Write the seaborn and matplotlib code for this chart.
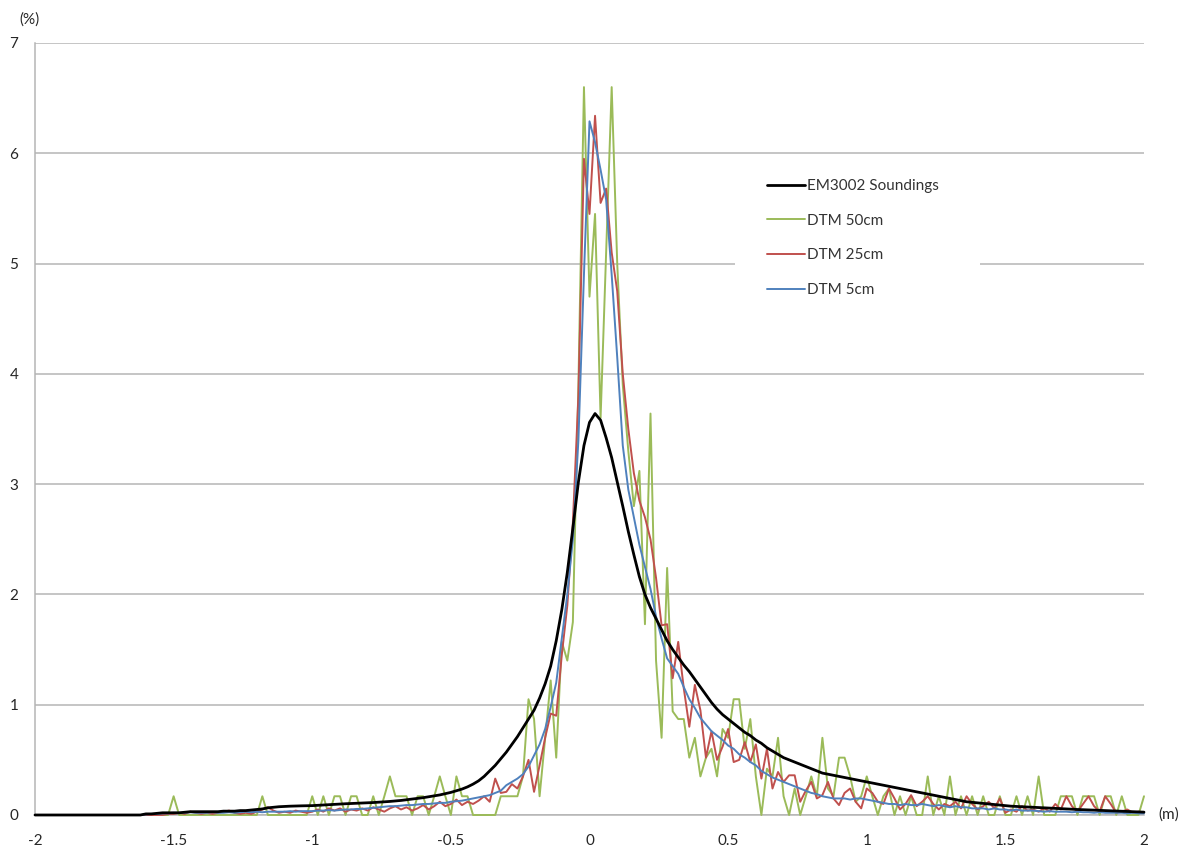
import numpy as np
import pandas as pd
import matplotlib
matplotlib.use("Agg")
import matplotlib.pyplot as plt
import seaborn as sns
from matplotlib.patches import Rectangle
from matplotlib.lines import Line2D

# bin centres (m), step 0.02 from -2 to 2
x_m = np.round(np.linspace(-2, 2, 201), 2)

em3002 = [
    0, 0, 0, 0, 0, 0, 0, 0, 0, 0,
    0, 0, 0, 0, 0, 0, 0, 0, 0, 0,
    0.01, 0.01, 0.015, 0.02, 0.02, 0.02, 0.02, 0.025, 0.03, 0.03,
    0.03, 0.03, 0.03, 0.03, 0.035, 0.035, 0.035, 0.04, 0.04, 0.045,
    0.05, 0.055, 0.065, 0.07, 0.075, 0.078, 0.08, 0.082, 0.083, 0.084,
    0.085, 0.088, 0.09, 0.093, 0.096, 0.10, 0.102, 0.104, 0.106, 0.108,
    0.11, 0.113, 0.116, 0.12, 0.123, 0.127, 0.132, 0.138, 0.144, 0.15,
    0.157, 0.165, 0.173, 0.182, 0.193, 0.205, 0.22, 0.235, 0.255, 0.28,
    0.31, 0.35, 0.40, 0.45, 0.51, 0.57, 0.64, 0.71, 0.79, 0.87,
    0.95, 1.06, 1.19, 1.35, 1.58, 1.86, 2.2, 2.6, 3.02, 3.35,
    3.56, 3.64, 3.58, 3.42, 3.24, 3.02, 2.8, 2.57, 2.36, 2.16,
    2.0, 1.88, 1.78, 1.68, 1.58, 1.5, 1.43, 1.36, 1.3, 1.23,
    1.16, 1.09, 1.02, 0.96, 0.91, 0.87, 0.83, 0.79, 0.75, 0.72,
    0.68, 0.65, 0.61, 0.58, 0.55, 0.52, 0.5, 0.48, 0.46, 0.44,
    0.42, 0.4, 0.38, 0.37, 0.36, 0.35, 0.34, 0.33, 0.32, 0.31,
    0.30, 0.29, 0.28, 0.27, 0.26, 0.25, 0.24, 0.23, 0.22, 0.21,
    0.2, 0.19, 0.18, 0.17, 0.16, 0.15, 0.14, 0.13, 0.12, 0.115,
    0.11, 0.105, 0.1, 0.095, 0.09, 0.085, 0.08, 0.078, 0.075, 0.072,
    0.07, 0.068, 0.065, 0.062, 0.06, 0.058, 0.055, 0.052, 0.05, 0.048,
    0.046, 0.044, 0.042, 0.04, 0.038, 0.036, 0.034, 0.032, 0.03, 0.028,
    0.026]

dtm50 = [
    0, 0, 0, 0, 0, 0, 0, 0, 0, 0,
    0, 0, 0, 0, 0, 0, 0, 0, 0, 0,
    0, 0, 0, 0, 0, 0.17, 0, 0, 0, 0,
    0, 0, 0, 0, 0, 0, 0, 0, 0, 0,
    0, 0.17, 0, 0, 0, 0, 0, 0, 0, 0,
    0.17, 0, 0.17, 0, 0.17, 0.17, 0, 0.17, 0.17, 0,
    0, 0.17, 0, 0.17, 0.35, 0.17, 0.17, 0.17, 0, 0.17,
    0.17, 0, 0.17, 0.35, 0.17, 0, 0.35, 0.17, 0.17, 0,
    0, 0, 0, 0, 0.17, 0.17, 0.17, 0.17, 0.35, 1.05,
    0.87, 0.17, 0.7, 1.22, 0.52, 1.57, 1.4, 1.75, 3.9, 6.6,
    4.7, 5.45, 3.6, 5.1, 6.6, 5.0, 3.9, 3.3, 2.8, 3.12,
    1.73, 3.64, 1.4, 0.7, 2.24, 0.94, 0.87, 0.87, 0.52, 0.7,
    0.35, 0.52, 0.6, 0.35, 0.78, 0.7, 1.05, 1.05, 0.6, 0.87,
    0.35, 0, 0.42, 0.35, 0.7, 0.17, 0, 0.24, 0, 0.17,
    0.35, 0.17, 0.7, 0.24, 0.17, 0.52, 0.52, 0.35, 0.12, 0.17,
    0.35, 0.17, 0, 0.17, 0.24, 0, 0.17, 0, 0.17, 0,
    0, 0.35, 0, 0.17, 0, 0.35, 0, 0.17, 0, 0.17,
    0, 0.17, 0, 0, 0.17, 0, 0, 0.17, 0, 0.17,
    0, 0.35, 0, 0, 0, 0.17, 0.17, 0.17, 0, 0.17,
    0.17, 0.17, 0, 0.17, 0.17, 0, 0.17, 0, 0, 0,
    0.17]

dtm25 = [
    0, 0, 0, 0, 0, 0, 0, 0, 0, 0,
    0, 0, 0, 0, 0, 0, 0, 0, 0, 0,
    0, 0, 0, 0, 0.01, 0.01, 0.02, 0.01, 0.03, 0.02,
    0.01, 0.02, 0.01, 0.02, 0.03, 0.04, 0.02, 0.01, 0.02, 0.01,
    0.03, 0.05, 0.07, 0.04, 0.02, 0.03, 0.02, 0.04, 0.03, 0.02,
    0.03, 0.05, 0.03, 0.06, 0.04, 0.06, 0.03, 0.05, 0.04, 0.06,
    0.04, 0.07, 0.05, 0.03, 0.06, 0.08, 0.05, 0.07, 0.04, 0.06,
    0.09, 0.05, 0.08, 0.12, 0.08, 0.1, 0.14, 0.09, 0.12, 0.1,
    0.13, 0.17, 0.12, 0.33, 0.2, 0.21, 0.28, 0.24, 0.35, 0.5,
    0.21, 0.45, 0.7, 0.92, 0.9, 1.45, 1.9, 2.65, 3.8, 5.95,
    5.45, 6.34, 5.55, 5.68, 5.1, 4.75, 4.0, 3.5, 3.1, 2.85,
    2.7, 2.5, 2.15, 1.72, 1.73, 1.24, 1.57, 1.15, 0.8, 1.18,
    0.95, 0.52, 0.76, 0.5, 0.62, 0.78, 0.48, 0.5, 0.66, 0.48,
    0.64, 0.33, 0.6, 0.24, 0.39, 0.3, 0.36, 0.36, 0.12, 0.22,
    0.30, 0.15, 0.18, 0.3, 0.15, 0.09, 0.2, 0.24, 0.12, 0.06,
    0.24, 0.2, 0.12, 0.1, 0.24, 0.15, 0.05, 0.1, 0.18, 0.08,
    0.12, 0.17, 0.1, 0.05, 0.1, 0.08, 0.12, 0.06, 0.17, 0.1,
    0.05, 0.08, 0.12, 0.06, 0.15, 0.02, 0.05, 0.03, 0.08, 0.04,
    0.05, 0.03, 0.06, 0.03, 0.1, 0.05, 0.17, 0.08, 0.03, 0.1,
    0.17, 0.08, 0.03, 0.17, 0.1, 0.02, 0.03, 0.05, 0.02, 0.03,
    0.02]

dtm5 = [
    0, 0, 0, 0, 0, 0, 0, 0, 0, 0,
    0, 0, 0, 0, 0, 0, 0, 0, 0, 0,
    0.005, 0.01, 0.01, 0.015, 0.015, 0.02, 0.02, 0.02, 0.025, 0.02,
    0.02, 0.02, 0.025, 0.02, 0.02, 0.025, 0.02, 0.025, 0.03, 0.025,
    0.03, 0.025, 0.03, 0.03, 0.03, 0.03, 0.035, 0.03, 0.035, 0.035,
    0.035, 0.04, 0.04, 0.045, 0.04, 0.045, 0.05, 0.05, 0.055, 0.055,
    0.06, 0.065, 0.07, 0.075, 0.08, 0.08, 0.085, 0.09, 0.09, 0.095,
    0.1, 0.1, 0.105, 0.11, 0.11, 0.12, 0.125, 0.13, 0.14, 0.15,
    0.16, 0.17, 0.18, 0.2, 0.22, 0.27, 0.3, 0.33, 0.37, 0.44,
    0.54, 0.64, 0.78, 0.98, 1.2, 1.6, 2.0, 2.5, 3.4, 4.9,
    6.29, 6.1, 5.85, 5.58, 4.9, 4.15, 3.35, 2.95, 2.7, 2.45,
    2.25, 2.05, 1.8, 1.6, 1.42, 1.35, 1.28, 1.16, 1.05, 0.97,
    0.88, 0.82, 0.76, 0.72, 0.68, 0.63, 0.6, 0.55, 0.52, 0.48,
    0.45, 0.4, 0.37, 0.34, 0.32, 0.3, 0.28, 0.26, 0.24, 0.22,
    0.2, 0.19, 0.17, 0.16, 0.15, 0.15, 0.15, 0.14, 0.15, 0.15,
    0.14, 0.13, 0.12, 0.11, 0.1, 0.1, 0.09, 0.1, 0.09, 0.09,
    0.1, 0.09, 0.08, 0.09, 0.08, 0.07, 0.08, 0.07, 0.07, 0.06,
    0.06, 0.06, 0.05, 0.06, 0.05, 0.05, 0.04, 0.05, 0.04, 0.04,
    0.04, 0.035, 0.03, 0.035, 0.03, 0.03, 0.03, 0.025, 0.03, 0.025,
    0.025, 0.02, 0.025, 0.02, 0.02, 0.02, 0.02, 0.015, 0.02, 0.015,
    0.015]

series_names = ["EM3002 Soundings", "DTM 50cm", "DTM 25cm", "DTM 5cm"]
x_ticks = [-2, -1.5, -1, -0.5, 0, 0.5, 1, 1.5, 2]
x_tick_labels = ["-2", "-1.5", "-1", "-0.5", "0", "0.5", "1", "1.5", "2"]
y_ticks = [0, 1, 2, 3, 4, 5, 6, 7]
y_tick_labels = ["0", "1", "2", "3", "4", "5", "6", "7"]

df = pd.DataFrame({"x": x_m,
                   "EM3002 Soundings": em3002,
                   "DTM 50cm": dtm50,
                   "DTM 25cm": dtm25,
                   "DTM 5cm": dtm5})

sns.set_style("white")
plt.rcParams["font.family"] = ["Lato", "DejaVu Sans"]

W, H = 1181, 851
fig = plt.figure(figsize=(W / 100, H / 100), dpi=100)
ax_l, ax_b, ax_r, ax_t = 35, 815, 1144, 43
ax = fig.add_axes([ax_l / W, 1 - ax_b / H, (ax_r - ax_l) / W, (ax_b - ax_t) / H])

styles = {
    "EM3002 Soundings": dict(color="#000000", lw=2.0, z=6),
    "DTM 50cm": dict(color="#9BBB59", lw=1.4, z=3),
    "DTM 25cm": dict(color="#C0504D", lw=1.4, z=4),
    "DTM 5cm": dict(color="#4F81BD", lw=1.4, z=5),
}
for name in ["DTM 50cm", "DTM 25cm", "DTM 5cm", "EM3002 Soundings"]:
    st = styles[name]
    sns.lineplot(data=df, x="x", y=name, ax=ax, color=st["color"],
                 linewidth=st["lw"], zorder=st["z"], clip_on=False)

ax.set_xlim(-2, 2)
ax.set_ylim(0, 7)
ax.set_xlabel("")
ax.set_ylabel("")
ax.set_xticks(x_ticks)
ax.set_xticklabels(x_tick_labels)
ax.set_yticks(y_ticks)
ax.set_yticklabels(y_tick_labels)

grid_col = "#b5b5b5"
ax.grid(axis="y", color=grid_col, linewidth=1.1)
ax.grid(axis="x", visible=False)
ax.set_axisbelow(True)
for s in ["top", "right"]:
    ax.spines[s].set_visible(False)
for s in ["left", "bottom"]:
    ax.spines[s].set_color(grid_col)
    ax.spines[s].set_linewidth(1.1)

txt_col = "#262626"
fs = 11
ax.tick_params(axis="x", direction="out", length=4, width=1, color=grid_col,
               pad=10, labelsize=fs, labelcolor=txt_col)
ax.tick_params(axis="y", direction="out", length=4, width=1, color=grid_col,
               pad=8, labelsize=fs, labelcolor=txt_col)

fig.text(30 / W, 1 - 20 / H, "(%)", ha="center", va="center", fontsize=fs, color=txt_col)
fig.text(1158 / W, 1 - 815 / H, "(m)", ha="left", va="center", fontsize=fs, color=txt_col)

def axy(p):
    return (ax_b - p) / (ax_b - ax_t)

def axx(p):
    return (p - ax_l) / (ax_r - ax_l)

ax.add_patch(Rectangle((axx(735), axy(310)), axx(980) - axx(735), axy(165) - axy(310),
                       transform=ax.transAxes, facecolor="white", edgecolor="none", zorder=1))

handles = [Line2D([0], [0], color=styles[n]["color"], lw=styles[n]["lw"]) for n in series_names]
leg = ax.legend(handles, series_names, loc="upper left",
                bbox_to_anchor=(axx(767), axy(179)), frameon=False,
                borderpad=0, borderaxespad=0, handlelength=2.5, handletextpad=0.15,
                labelspacing=1.35, fontsize=fs)
for t in leg.get_texts():
    t.set_color("#333333")
leg.set_zorder(10)

fig.savefig("out.png", dpi=100)
